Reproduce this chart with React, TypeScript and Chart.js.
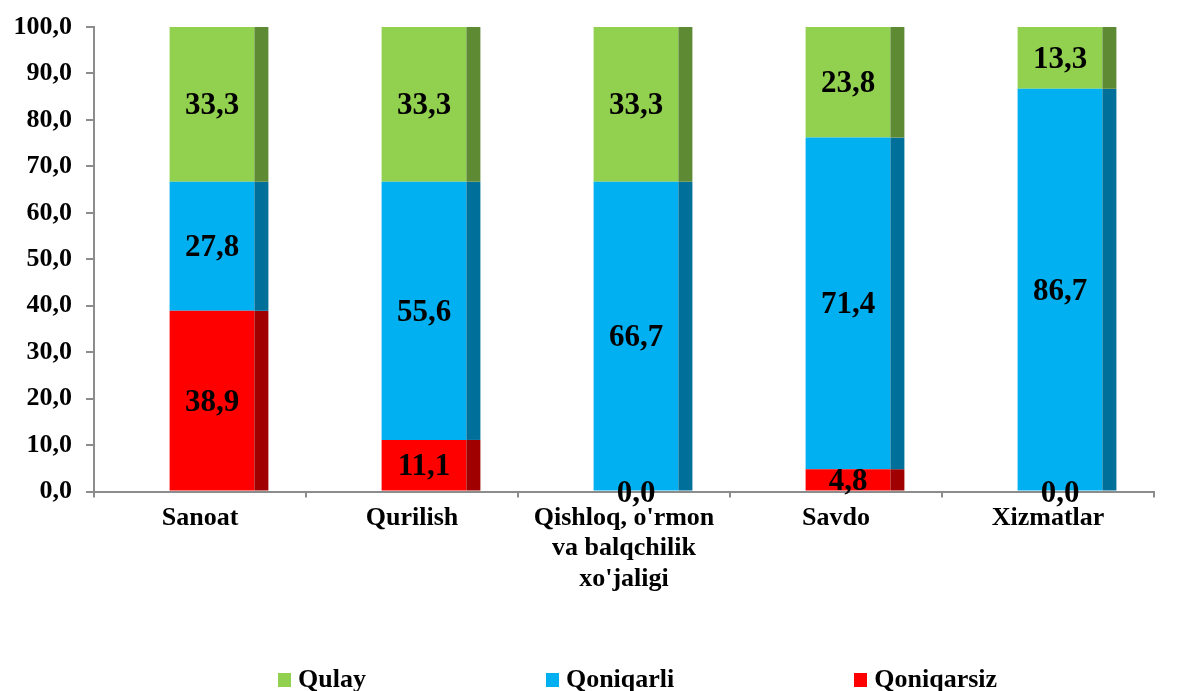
import React, { useEffect, useRef } from "react";
import { Chart, registerables } from "chart.js";

Chart.register(...registerables);

const categories: (string | string[])[] = [
  "Sanoat",
  "Qurilish",
  ["Qishloq, o'rmon", "va balqchilik", "xo'jaligi"],
  "Savdo",
  "Xizmatlar",
];
const qoniqarsiz = [38.9, 11.1, 0.0, 4.8, 0.0];
const qoniqarli = [27.8, 55.6, 66.7, 71.4, 86.7];
const qulay = [33.3, 33.3, 33.3, 23.8, 13.3];
const seriesNames = ["Qoniqarsiz", "Qoniqarli", "Qulay"];
const legendOrder = ["Qulay", "Qoniqarli", "Qoniqarsiz"];

const frontColors: Record<string, string> = {
  Qoniqarsiz: "#FF0000",
  Qoniqarli: "#00B0F0",
  Qulay: "#92D050",
};
const sideColors: Record<string, string> = {
  Qoniqarsiz: "#A00000",
  Qoniqarli: "#00709A",
  Qulay: "#5E8A34",
};

const FONT = "'Liberation Serif', 'Times New Roman', serif";
const BAR_SHIFT = 12;
const SIDE_W = 14;

const fmt = (v: number) => v.toFixed(1).replace(".", ",");

const barDecor = {
  id: "barDecor",
  beforeDatasetsDraw(chart: any) {
    chart.ctx.save();
    chart.ctx.translate(BAR_SHIFT, 0);
  },
  afterDatasetsDraw(chart: any) {
    const ctx = chart.ctx;
    ctx.restore();
    chart.data.datasets.forEach((ds: any, di: number) => {
      const meta = chart.getDatasetMeta(di);
      meta.data.forEach((el: any) => {
        const right = el.x + el.width / 2 + BAR_SHIFT;
        const top = Math.min(el.y, el.base);
        const h = Math.abs(el.base - el.y);
        if (h <= 0) return;
        ctx.fillStyle = sideColors[ds.label];
        ctx.fillRect(right, top, SIDE_W, h);
      });
    });
    ctx.save();
    ctx.font = `bold 31px ${FONT}`;
    ctx.fillStyle = "#000";
    ctx.textAlign = "center";
    ctx.textBaseline = "middle";
    chart.data.datasets.forEach((ds: any, di: number) => {
      const meta = chart.getDatasetMeta(di);
      meta.data.forEach((el: any, i: number) => {
        const v = ds.data[i];
        const cx = el.x + BAR_SHIFT;
        const cy = (el.y + el.base) / 2;
        ctx.fillText(fmt(v), cx, cy + 2);
      });
    });
    ctx.restore();
  },
};

export default function App() {
  const ref = useRef<HTMLCanvasElement | null>(null);

  useEffect(() => {
    document.body.style.margin = "0";
    const seriesData: Record<string, number[]> = {
      Qoniqarsiz: qoniqarsiz,
      Qoniqarli: qoniqarli,
      Qulay: qulay,
    };
    const chart = new Chart(ref.current!, {
      type: "bar",
      data: {
        labels: categories as any,
        datasets: seriesNames.map((name) => ({
          label: name,
          data: seriesData[name],
          backgroundColor: frontColors[name],
          borderWidth: 0,
          categoryPercentage: 1,
          barPercentage: 0.4,
        })),
      },
      options: {
        animation: false,
        responsive: true,
        maintainAspectRatio: false,
        layout: { padding: { top: 27, right: 28, left: 0, bottom: 0 } },
        plugins: {
          legend: { display: false },
          tooltip: { enabled: false },
        },
        scales: {
          x: {
            stacked: true,
            offset: true,
            afterFit: (s: any) => {
              s.height = 199.5;
            },
            grid: {
              offset: true,
              drawOnChartArea: false,
              tickLength: 6,
              color: "#8C8C8C",
              lineWidth: 2,
            },
            border: { display: true, color: "#8C8C8C", width: 2 },
            ticks: {
              color: "#000",
              padding: 6,
              maxRotation: 0,
              autoSkip: false,
              font: { family: FONT, size: 26, weight: "bold", lineHeight: 1.16 },
            },
          },
          y: {
            stacked: true,
            min: 0,
            max: 100,
            afterFit: (s: any) => {
              s.width = 94;
              s.paddingTop = 0;
              s.paddingBottom = 0;
            },
            grid: {
              drawOnChartArea: false,
              tickLength: 8,
              color: "#8C8C8C",
              lineWidth: 2,
            },
            border: { display: true, color: "#8C8C8C", width: 2 },
            ticks: {
              stepSize: 10,
              color: "#000",
              padding: 14,
              callback: (v: any) => fmt(Number(v)),
              font: { family: FONT, size: 26, weight: "bold" },
            },
          },
        },
      },
      plugins: [barDecor],
    });
    return () => chart.destroy();
  }, []);

  return (
    <div style={{ position: "relative", width: 1182, height: 691, background: "#fff" }}>
      <canvas ref={ref} />
      <div
        style={{
          position: "absolute",
          left: 278,
          top: 664,
          display: "flex",
          gap: 180,
          fontFamily: FONT,
          fontWeight: "bold",
          fontSize: 26,
          lineHeight: "30px",
          color: "#000",
          whiteSpace: "nowrap",
        }}
      >
        {legendOrder.map((name) => (
          <div key={name} style={{ display: "flex", alignItems: "flex-start" }}>
            <span
              style={{
                display: "inline-block",
                width: 13,
                height: 14,
                marginTop: 9,
                marginRight: 7,
                background: frontColors[name],
              }}
            />
            <span>{name}</span>
          </div>
        ))}
      </div>
    </div>
  );
}
